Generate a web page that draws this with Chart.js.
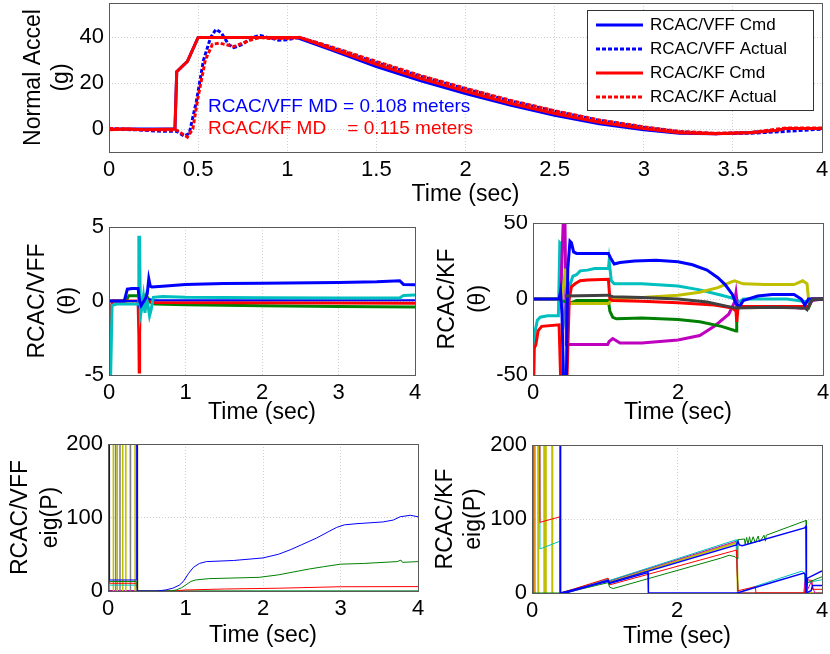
<!DOCTYPE html>
<html lang="en">
<head>
<meta charset="UTF-8">
<title>RCAC/VFF vs RCAC/KF</title>
<script src="https://cdn.jsdelivr.net/npm/chart.js"></script>
<style>
    body { margin: 0; background: #fff; }
    .figure { position: relative; width: 830px; height: 654px; overflow: hidden; background: #fff; }
    .figure canvas { position: absolute; }
</style>
</head>
<body>
<div class="figure">
    <canvas id="accel" width="830" height="215" style="left:0px;top:0px"></canvas>
    <canvas id="vffTheta" width="430" height="215" style="left:0px;top:215px"></canvas>
    <canvas id="kfTheta" width="410" height="215" style="left:420px;top:215px"></canvas>
    <canvas id="vffEig" width="430" height="224" style="left:0px;top:430px"></canvas>
    <canvas id="kfEig" width="410" height="224" style="left:420px;top:430px"></canvas>
</div>
<script>
    // ---- data: [time (sec), value] ----
    // normal acceleration (g)
    const vffCmd = [[0,0],[0.37,0],[0.38,25],[0.44,29.5],[0.5,40],[1.05,40],[1.25,34.5],[1.5,27.3],[1.75,21],[2,15.5],[2.25,10.5],[2.5,6],[2.75,2.3],[3,-0.3],[3.2,-1.8],[3.4,-2],[3.6,-1.5],[3.75,-0.5],[3.8,0.3],[4,0.3]];
    const vffActual = [[0,0],[0.15,-0.3],[0.3,-1],[0.38,-1],[0.42,-3],[0.45,-2],[0.49,12],[0.53,30],[0.57,40],[0.6,43.5],[0.63,42],[0.67,37],[0.7,35.5],[0.75,37],[0.8,40],[0.85,40.8],[0.9,39.8],[0.95,38.8],[1,39],[1.07,40],[1.25,35.5],[1.5,29],[1.75,23],[2,17.5],[2.25,12.3],[2.5,7.8],[2.75,3.8],[3,0.8],[3.2,-1.2],[3.4,-2],[3.6,-1.8],[3.8,-1],[3.9,-0.5],[4,0]];
    const kfCmd = [[0,-0.3],[0.1,0],[0.2,-0.3],[0.37,0],[0.38,25],[0.44,29.5],[0.5,40],[1.07,40],[1.25,35],[1.5,28.2],[1.75,22],[2,16.5],[2.25,11.3],[2.5,6.8],[2.75,3],[3,0.2],[3.2,-1.6],[3.4,-2],[3.6,-1.6],[3.75,-0.5],[3.8,0.3],[4,0.3]];
    const kfActual = [[0,0.3],[0.1,0],[0.3,-0.5],[0.38,-0.5],[0.44,-3.5],[0.47,0],[0.5,14],[0.54,30],[0.58,37],[0.62,37.5],[0.7,36],[0.75,37.5],[0.8,39],[0.85,40],[0.9,39.5],[1,39.5],[1.07,40],[1.25,35.8],[1.5,29.5],[1.75,23.3],[2,17.8],[2.25,12.6],[2.5,8],[2.75,4],[3,1],[3.2,-1],[3.4,-1.8],[3.6,-1.5],[3.75,0],[3.8,0.5],[4,0.5]];
    const accelLabels = ['RCAC/VFF Cmd', 'RCAC/VFF Actual', 'RCAC/KF Cmd', 'RCAC/KF Actual'];
    const mdNotes = ['RCAC/VFF MD = 0.108 meters', 'RCAC/KF MD    = 0.115 meters'];

    // RCAC/VFF theta
    const vffThBlue = [[0,0],[0.2,0],[0.24,0.8],[0.3,0.85],[0.38,0.85],[0.4,0],[0.42,-0.3],[0.48,0.2],[0.5,0.5],[0.52,1.5],[0.54,1.0],[0.56,0.95],[0.7,1.0],[1,1.12],[1.5,1.18],[2,1.2],[3,1.25],[3.5,1.3],[3.8,1.37],[3.85,1.12],[4,1.1]];
    const vffThBlue2 = [[0,0],[0.38,0],[0.4,-0.5],[0.45,0.2],[0.6,0.05],[4,0.05]];
    const vffThCyan = [[0,-5.5],[0.02,-5.5],[0.04,-0.3],[0.1,-0.2],[0.38,-0.2],[0.39,4.3],[0.4,4.3],[0.41,-1],[0.43,-0.5],[0.45,0.3],[0.47,-0.8],[0.49,0.2],[0.51,-0.3],[0.53,-1],[0.55,-0.6],[0.58,0.25],[0.7,0.3],[1,0.25],[2,0.22],[3,0.2],[3.8,0.2],[3.85,0.38],[4,0.4]];
    const vffThRed = [[0,-5.5],[0.02,-0.5],[0.05,0],[0.38,0],[0.39,-2.2],[0.395,-4.8],[0.4,-2.2],[0.41,0],[0.6,-0.1],[4,-0.15]];
    const vffThGreen = [[0,0],[0.22,0],[0.26,0.35],[0.38,0.35],[0.42,0],[0.48,0.4],[0.55,-0.1],[0.6,-0.2],[1,-0.25],[2,-0.32],[3,-0.38],[4,-0.4]];

    // RCAC/KF theta
    const kfThBlue = [[0,0],[0.36,0],[0.38,5],[0.4,-10],[0.42,-50],[0.46,-55],[0.48,20],[0.51,38],[0.53,37],[0.56,31],[0.6,30],[1.04,30],[1.07,27],[1.12,23],[1.2,24],[1.4,25],[1.7,25.5],[2,24.5],[2.2,22.5],[2.4,19],[2.55,14],[2.65,9.5],[2.75,3],[2.8,-3],[2.85,-5],[2.9,-1],[3.1,2],[3.3,3],[3.6,3],[3.7,0],[3.75,-4],[3.8,0],[4,0]];
    const kfThCyan = [[0,-55],[0.01,-50],[0.03,-21],[0.06,-14],[0.1,-12],[0.2,-11],[0.35,-11],[0.37,37],[0.39,36],[0.41,-20],[0.44,-10],[0.48,5],[0.55,15],[0.6,16],[0.65,18.5],[0.75,19],[0.85,20],[1.04,20],[1.05,25],[1.08,12],[1.12,10],[1.5,10],[2,8.5],[2.3,6],[2.6,2.5],[2.8,0],[2.85,-2],[2.9,0],[3.5,0],[3.8,-2],[3.85,0],[4,0]];
    const kfThRed = [[0,-55],[0.01,-33],[0.04,-30],[0.07,-21],[0.12,-18],[0.36,-17],[0.38,-50],[0.45,-55],[0.47,-50],[0.5,0],[0.53,8],[0.58,10],[0.65,12],[0.75,12.5],[1.04,13],[1.06,0],[1.1,-1],[1.5,-1.5],[2,-2.5],[2.5,-4],[2.75,-6],[2.8,-8],[2.81,-15],[2.83,-5],[3.5,-5],[3.8,-5],[3.85,0],[4,0]];
    const kfThGreen = [[0,0],[0.36,0],[0.5,-3],[0.6,-1],[1.04,-1],[1.06,-8],[1.1,-12],[1.15,-13],[1.5,-12.5],[2,-13.5],[2.3,-15],[2.6,-18],[2.8,-21],[2.81,-5],[3.5,-5],[3.8,-6],[3.85,0],[4,0]];
    const kfThMagenta = [[0,0],[0.38,0],[0.42,55],[0.44,55],[0.46,-30],[0.5,-30],[1.03,-30],[1.05,-28],[1.1,-26],[1.2,-29],[1.5,-29],[2,-27],[2.3,-24],[2.5,-18],[2.7,-10],[2.78,-2],[2.8,4],[2.82,-5],[3.5,-5],[3.7,-6],[3.8,-5],[3.85,-1],[4,0]];
    const kfThYellow = [[0,0],[0.4,0],[0.45,20],[0.48,-3],[1.04,-3],[1.1,0],[1.5,1],[2,2.5],[2.3,4.5],[2.55,7.5],[2.72,11],[2.78,12],[2.9,10],[3.2,9.5],[3.6,9.5],[3.72,12],[3.78,10],[3.8,0],[4,0]];
    const kfThGrey = [[0.44,2],[1.04,2.5],[1.1,1.5],[1.5,1],[2,0],[2.4,-2],[2.7,-5],[2.8,-6],[3.3,-5.5],[3.75,-6],[3.78,-7],[3.8,-5],[3.85,-0.5],[4,0]];

    // RCAC/VFF eig(P)  (1e4 = far above the axis)
    const vffEigBlue = [[0,1e4],[0.02,15],[0.37,15],[0.375,1e4],[0.38,0],[0.63,0],[0.75,1.5],[0.84,4],[0.92,8],[0.97,12.7],[1.04,24],[1.1,32],[1.18,37.5],[1.27,40],[1.62,41.5],[2,45],[2.2,50],[2.35,56],[2.5,63],[2.69,72],[2.85,81],[2.95,86.5],[3.05,90],[3.2,91.5],[3.55,94],[3.68,96.5],[3.77,101],[3.9,103],[4,101]];
    const vffEigGreen = [[0,1e4],[0.02,13],[0.37,13],[0.38,0],[0.8,0],[0.88,1.4],[0.95,4.5],[1,8],[1.07,13],[1.13,15],[1.3,16.8],[1.95,18.6],[2.2,22],[2.4,26],[2.6,30],[2.78,33],[3,36.5],[3.3,37.5],[3.73,40],[3.78,42],[3.8,39],[4,40]];
    const vffEigRed = [[0,1e4],[0.02,10.5],[0.37,10.5],[0.38,0],[0.85,0],[1,1.4],[1.5,2.7],[2.2,3.8],[3,5.8],[4,6]];
    const vffEigCyan = [[0,1e4],[0.015,8],[0.37,8],[0.38,0],[4,0]];
    const vffEigYellow = [[0,1e4],[0.07,0],[0.09,1e4],[0.12,0],[0.14,1e4],[0.19,0],[0.21,1e4],[0.23,0],[0.25,1e4],[0.35,0],[0.37,1e4],[0.38,0],[4,0]];
    const vffEigGrey = [[0,1e4],[0.1,0],[0.12,1e4],[0.155,0],[0.17,1e4],[0.29,0],[0.31,1e4],[0.38,0],[4,0]];
    const vffEigMagenta = [[0,1e4],[0.005,0],[0.008,1e4],[0.012,0],[4,0]];

    // RCAC/KF eig(P)
    const kfEigBlue = [[0,1e4],[0.385,1e4],[0.39,0],[0.5,1],[1.05,17],[1.07,14],[2.82,65],[2.84,70],[2.86,65],[2.9,64],[3.76,88],[3.78,90],[3.785,0],[3.8,20],[4,30]];
    const kfEigBlue2 = [[0.39,0],[1.05,16],[1.07,13],[1.6,27.5],[1.605,0],[2.83,0],[3.1,8],[3.75,27],[3.77,25],[3.78,0],[3.85,3],[3.87,10],[4,10]];
    const kfEigCyan = [[0,1e4],[0.11,59.5],[0.386,70],[0.39,0],[0.45,1],[1.05,19],[1.07,17],[2.82,72],[2.84,0],[3.08,9],[3.72,29.5],[3.76,27],[3.78,0],[3.8,14],[4,18]];
    const kfEigMagenta = [[0,1e4],[0.385,1e4],[0.387,0],[0.45,1],[1.05,18.5],[1.07,16.5],[2.82,70],[2.84,0],[3.75,0],[3.77,25],[3.78,0],[3.85,15],[3.9,0],[4,0]];
    const kfEigYellow = [[0,1e4],[0.087,0],[0.1,1e4],[0.17,0],[0.18,1e4],[0.19,0],[0.2,1e4],[0.28,0],[0.3,1e4],[0.4,0],[0.45,1],[1.05,18],[1.07,15.5],[2.82,68],[2.84,0],[4,0]];
    const kfEigRed = [[0,1e4],[0.11,95.5],[0.386,103],[0.39,0],[0.45,1.5],[1.05,20],[1.07,11],[2.82,58],[2.84,3],[3.08,8.5],[3.09,0],[3.76,0],[3.78,18],[3.86,17],[3.87,5],[4,5]];
    const kfEigGreen = [[0,1e4],[0.018,0],[0.45,0],[1.05,14],[1.07,8],[1.12,6],[2.6,47],[2.72,51],[2.8,49],[2.83,46],[2.84,72],[2.93,73],[2.94,66],[2.96,75],[2.98,66],[3,76],[3.02,67],[3.05,76],[3.08,68],[3.12,77],[3.14,69],[3.2,78],[3.22,70],[3.23,78],[3.78,98],[3.785,0],[3.8,14],[4,22]];
    const kfEigOrange = [[0,1e4],[0.04,0],[0.05,1e4],[4,1e4]];

    // axis ticks
    const accelTimeTicks = [0, 0.5, 1, 1.5, 2, 2.5, 3, 3.5, 4];
    const accelTicks = [0, 20, 40];
    const vffTimeTicks = [0, 1, 2, 3, 4];
    const kfTimeTicks = [0, 2, 4];
    const vffThetaTicks = [-5, 0, 5];
    const kfThetaTicks = [-50, 0, 50];
    const eigTicks = [0, 100, 200];

    // ---- drawing ----
    const FONT = "'Liberation Sans', Arial, Helvetica, sans-serif";
    const C = { blue: '#0000ff', green: '#008000', red: '#ff0000', cyan: '#00bfbf', magenta: '#bf00bf', yellow: '#bfbf00', grey: '#404040', orange: '#e08000' };

    function series(label, data, color, width, dash) {
        return { label: label, data: data, borderColor: color, backgroundColor: color, borderWidth: width,
                 borderDash: dash || [], pointRadius: 0, tension: 0, fill: false, clip: 0 };
    }

    const frame = {
        id: 'frame',
        afterDatasetsDraw(chart) {
            const { ctx, chartArea: a } = chart;
            ctx.save();
            ctx.strokeStyle = '#5a5a5a';
            ctx.lineWidth = 1;
            ctx.strokeRect(Math.round(a.left) + 0.5, Math.round(a.top) + 0.5, Math.round(a.right - a.left), Math.round(a.bottom - a.top));
            ctx.restore();
        }
    };

    function panel(id, o) {
        const cv = document.getElementById(id);
        const W = cv.width, H = cv.height;
        const tickFont = { family: FONT, size: 22 };
        const grid = { color: '#cfcfcf', lineWidth: 1, drawTicks: false };
        const border = { display: false, dash: [1, 2] };
        return new Chart(cv, {
            type: 'line',
            data: { datasets: o.datasets },
            options: {
                responsive: false,
                animation: false,
                devicePixelRatio: 1,
                events: [],
                layout: { autoPadding: false, padding: { left: 0, top: o.area.top, right: W - o.area.right, bottom: 0 } },
                plugins: { legend: { display: false }, tooltip: { enabled: false } },
                scales: {
                    x: {
                        type: 'linear', position: 'bottom',
                        min: o.xTicks[0], max: o.xTicks[o.xTicks.length - 1],
                        afterBuildTicks: s => { s.ticks = o.xTicks.map(v => ({ value: v })); },
                        afterFit: s => { s.height = H - o.area.bottom; s.paddingLeft = 0; s.paddingRight = 0; },
                        grid: grid, border: border,
                        ticks: { padding: 5, color: '#000', font: tickFont, maxRotation: 0, autoSkip: false, callback: v => String(v) },
                        title: { display: true, text: 'Time (sec)', color: '#000', font: { family: FONT, size: 23 },
                                 padding: { top: 0, bottom: o.xTitlePad } }
                    },
                    y: {
                        type: 'linear', position: 'left',
                        min: o.yMin, max: o.yMax,
                        afterBuildTicks: s => { s.ticks = o.yTicks.map(v => ({ value: v })); },
                        afterFit: s => { s.width = o.area.left; s.paddingTop = 0; s.paddingBottom = 0; },
                        grid: grid, border: border,
                        ticks: { padding: 5, color: '#000', font: tickFont, autoSkip: false, callback: v => String(v) },
                        title: { display: true, text: o.yTitle, color: '#000',
                                 font: { family: FONT, size: 23, lineHeight: o.yTitleLine + 'px' },
                                 padding: { top: o.yTitlePad, bottom: 0 } }
                    }
                }
            },
            plugins: [frame].concat(o.plugins || [])
        });
    }

    // legend box and miss-distance notes of the top panel
    const accelLegend = {
        id: 'accelLegend',
        afterDatasetsDraw(chart) {
            const ctx = chart.ctx;
            const box = { x: 587, y: 10, w: 226, h: 100 };
            ctx.save();
            ctx.fillStyle = '#fff';
            ctx.fillRect(box.x, box.y, box.w, box.h);
            ctx.strokeStyle = '#333';
            ctx.lineWidth = 1;
            ctx.strokeRect(box.x + 0.5, box.y + 0.5, box.w, box.h);
            ctx.font = '17px ' + FONT;
            ctx.textBaseline = 'middle';
            chart.data.datasets.forEach((d, i) => {
                const y = box.y + 15 + i * 24;
                ctx.strokeStyle = d.borderColor;
                ctx.lineWidth = d.borderWidth;
                ctx.setLineDash(d.borderDash);
                ctx.beginPath();
                ctx.moveTo(box.x + 9, y);
                ctx.lineTo(box.x + 56, y);
                ctx.stroke();
                ctx.setLineDash([]);
                ctx.fillStyle = '#000';
                ctx.fillText(d.label, box.x + 63, y);
            });
            // notes placed in data units
            const xs = chart.scales.x, ys = chart.scales.y;
            ctx.font = '19px ' + FONT;
            ctx.textBaseline = 'middle';
            ctx.fillStyle = C.blue;
            ctx.fillText(mdNotes[0], xs.getPixelForValue(0.555), ys.getPixelForValue(9.8));
            ctx.fillStyle = C.red;
            ctx.fillText(mdNotes[1], xs.getPixelForValue(0.555), ys.getPixelForValue(0));
            ctx.restore();
        }
    };

    panel('accel', {
        area: { left: 109, top: 3, right: 822, bottom: 152 },
        xTicks: accelTimeTicks, yTicks: accelTicks, yMin: -10, yMax: 55,
        yTitle: ['Normal Accel', '(g)'], yTitleLine: 28, yTitlePad: 20, xTitlePad: 7,
        datasets: [
            Object.assign(series(accelLabels[0], vffCmd, C.blue, 3), { order: 4 }),
            Object.assign(series(accelLabels[1], vffActual, C.blue, 3, [4, 2]), { order: 3 }),
            Object.assign(series(accelLabels[2], kfCmd, C.red, 3), { order: 2 }),
            Object.assign(series(accelLabels[3], kfActual, C.red, 3, [4, 2]), { order: 1 })
        ],
        plugins: [accelLegend]
    });

    panel('vffTheta', {
        area: { left: 109, top: 12, right: 415, bottom: 160 },
        xTicks: vffTimeTicks, yTicks: vffThetaTicks, yMin: -5, yMax: 5,
        yTitle: ['RCAC/VFF', '(\u03b8)'], yTitleLine: 31, yTitlePad: 22, xTitlePad: 4,
        datasets: [
            series('b', vffThBlue, C.blue, 3),
            series('c', vffThCyan, C.cyan, 3),
            series('b2', vffThBlue2, C.blue, 2),
            series('r', vffThRed, C.red, 3),
            series('g', vffThGreen, C.green, 3)
        ]
    });

    panel('kfTheta', {
        area: { left: 113, top: 8, right: 403, bottom: 160 },
        xTicks: kfTimeTicks, yTicks: kfThetaTicks, yMin: -50, yMax: 50,
        yTitle: ['RCAC/KF', '(\u03b8)'], yTitleLine: 31, yTitlePad: 12, xTitlePad: 4,
        datasets: [
            series('k', kfThGrey, C.grey, 3),
            series('b', kfThBlue, C.blue, 3),
            series('r', kfThRed, C.red, 3),
            series('y', kfThYellow, C.yellow, 3),
            series('g', kfThGreen, C.green, 3),
            series('m', kfThMagenta, C.magenta, 3),
            series('c', kfThCyan, C.cyan, 3)
        ]
    });

    panel('vffEig', {
        area: { left: 108, top: 14, right: 418, bottom: 161 },
        xTicks: vffTimeTicks, yTicks: eigTicks, yMin: 0, yMax: 200,
        yTitle: ['RCAC/VFF', 'eig(P)'], yTitleLine: 29.5, yTitlePad: 6, xTitlePad: 5,
        datasets: [
            series('b', vffEigBlue, C.blue, 1),
            series('g', vffEigGreen, C.green, 1),
            series('r', vffEigRed, C.red, 1),
            series('c', vffEigCyan, C.cyan, 1),
            series('y', vffEigYellow, C.yellow, 1.5),
            series('k', vffEigGrey, '#808080', 1.5),
            series('m', vffEigMagenta, C.magenta, 2)
        ]
    });

    panel('kfEig', {
        area: { left: 112, top: 15, right: 402, bottom: 163 },
        xTicks: kfTimeTicks, yTicks: eigTicks, yMin: 0, yMax: 200,
        yTitle: ['RCAC/KF', 'eig(P)'], yTitleLine: 28.5, yTitlePad: 11, xTitlePad: 3.5,
        datasets: [
            series('b', kfEigBlue, C.blue, 1.5),
            series('b2', kfEigBlue2, C.blue, 1.5),
            series('g', kfEigGreen, C.green, 1),
            series('r', kfEigRed, C.red, 1),
            series('c', kfEigCyan, C.cyan, 1),
            series('m', kfEigMagenta, C.magenta, 1),
            series('y', kfEigYellow, C.yellow, 2),
            series('o', kfEigOrange, C.orange, 1.5)
        ]
    });
</script>
</body>
</html>
